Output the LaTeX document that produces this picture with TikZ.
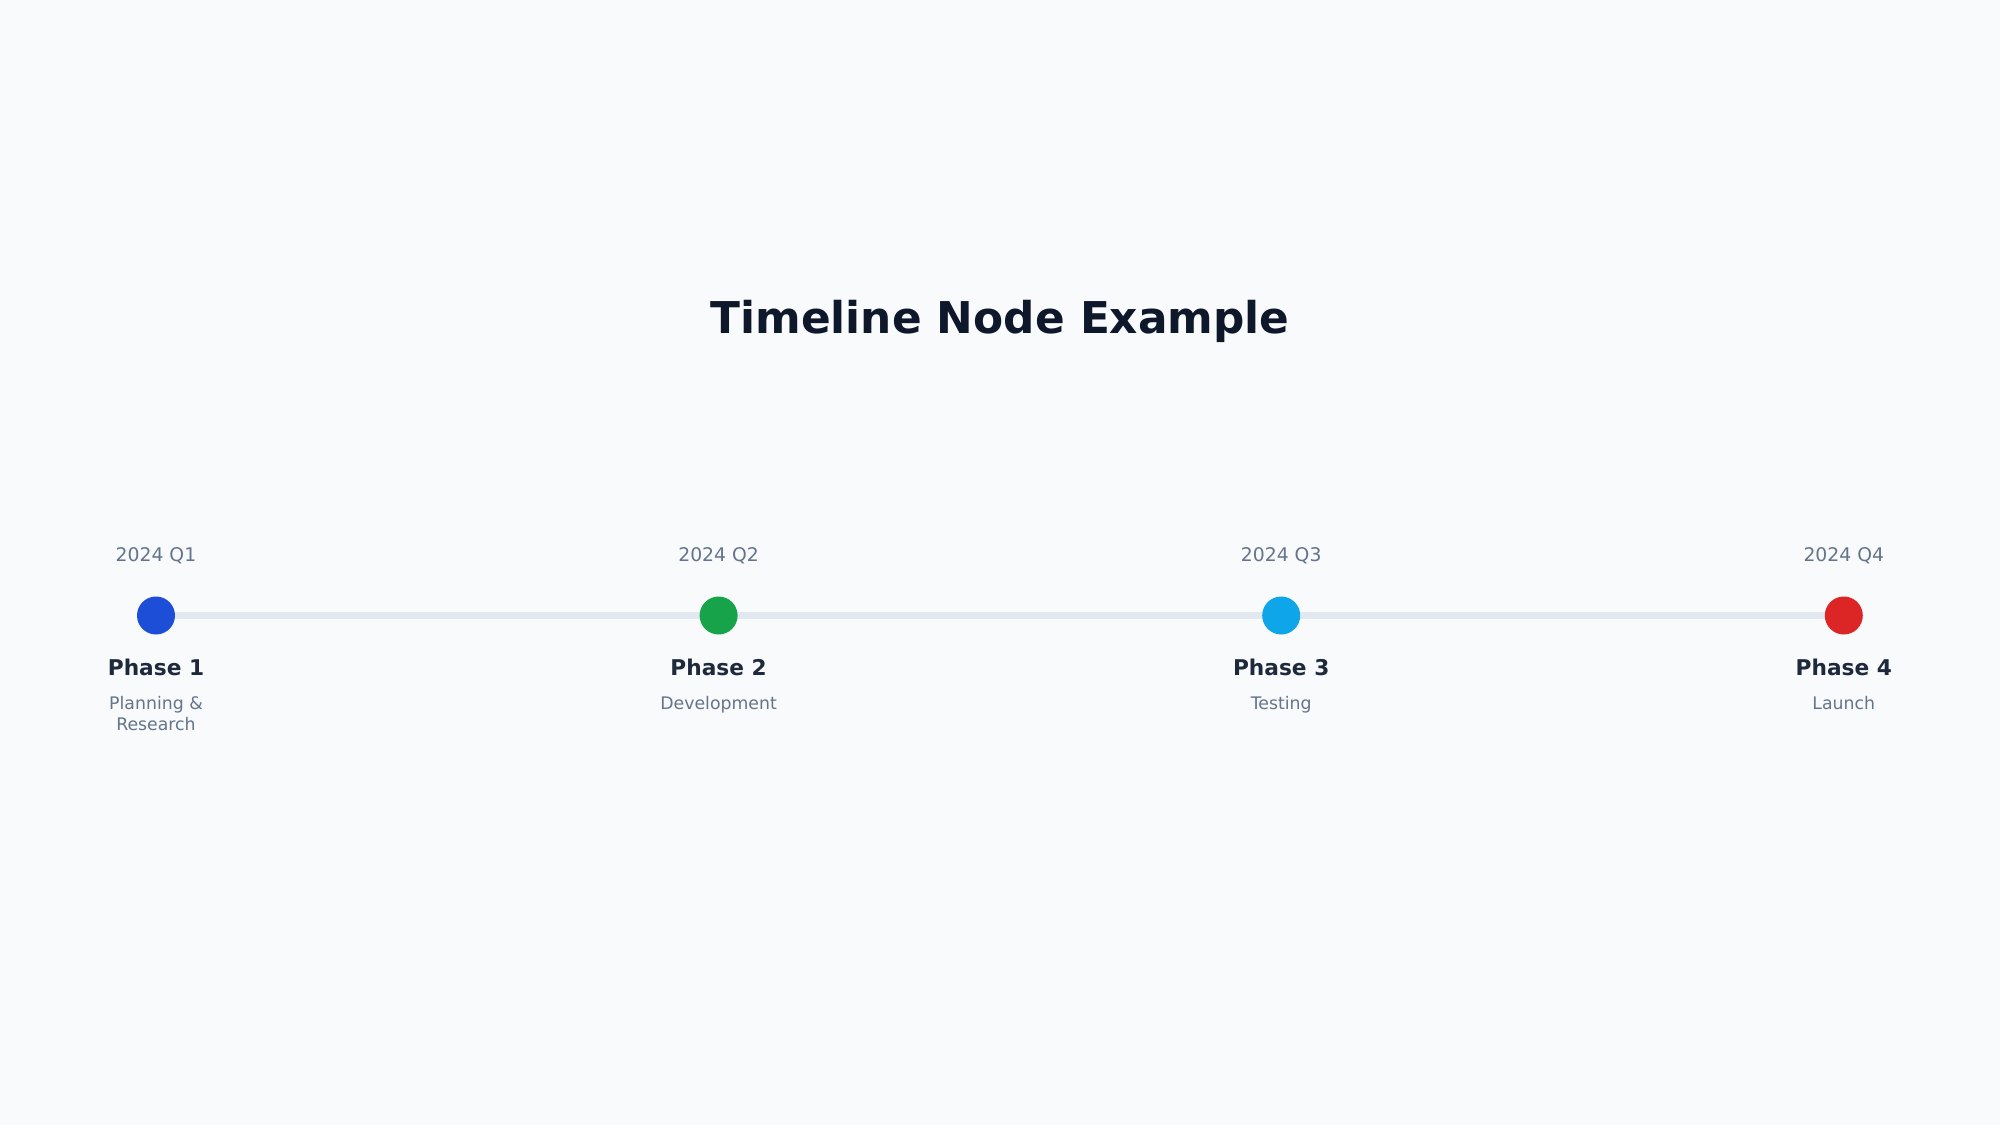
\documentclass[tikz,border=0pt]{standalone}
\usepackage{fontspec}
\setmainfont{DejaVu Sans}
\definecolor{bg}{HTML}{F8FAFC}
\definecolor{titlec}{HTML}{0F172A}
\definecolor{phasec}{HTML}{1E293B}
\definecolor{mutedc}{HTML}{64748B}
\definecolor{trackc}{HTML}{E2E8F0}
\definecolor{c1}{HTML}{1D4ED8}
\definecolor{c2}{HTML}{16A34A}
\definecolor{c3}{HTML}{0EA5E9}
\definecolor{c4}{HTML}{DC2626}
\tikzset{
  dot/.style={circle, minimum size=38pt, inner sep=0pt, draw=none},
  datelbl/.style={anchor=base, text=mutedc, font=\fontsize{18.8}{22}\selectfont, inner sep=0pt},
  phaselbl/.style={anchor=base, text=phasec, font=\bfseries\fontsize{21.7}{26}\selectfont, inner sep=0pt},
  sublbl/.style={anchor=base, text=mutedc, font=\fontsize{17.3}{21}\selectfont, inner sep=0pt, align=center},
  track/.style={draw=trackc, line width=6.5pt}
}
\begin{document}
\begin{tikzpicture}[x=1pt,y=-1pt]
\fill[bg] (0,0) rectangle (2000,1125);
\useasboundingbox (0,0) rectangle (2000,1125);
\node[anchor=base, text=titlec, font=\bfseries\fontsize{43.8}{53}\selectfont, inner sep=0pt] (title) at (1000,333) {Timeline Node Example};
\coordinate (p1) at (156,615.5);
\coordinate (p2) at (718.6,615.5);
\coordinate (p3) at (1281.2,615.5);
\coordinate (p4) at (1843.8,615.5);
\draw[track] (p1) -- (p4);
\node[dot, fill=c1] (d1) at (p1) {};
\node[dot, fill=c2] (d2) at (p2) {};
\node[dot, fill=c3] (d3) at (p3) {};
\node[dot, fill=c4] (d4) at (p4) {};
\foreach \i/\q in {1/Q1,2/Q2,3/Q3,4/Q4}{
  \node[datelbl] (date\i) at ([yshift=54pt]p\i) {2024 \q};
  \node[phaselbl] (phase\i) at ([yshift=-60.3pt]p\i) {Phase \i};
}
\node[sublbl] (sub1) at ([yshift=-115pt]p1) {Planning \&\\Research};
\node[sublbl] (sub2) at ([yshift=-94pt]p2) {Development};
\node[sublbl] (sub3) at ([yshift=-94pt]p3) {Testing};
\node[sublbl] (sub4) at ([yshift=-94pt]p4) {Launch};
\end{tikzpicture}
\end{document}
